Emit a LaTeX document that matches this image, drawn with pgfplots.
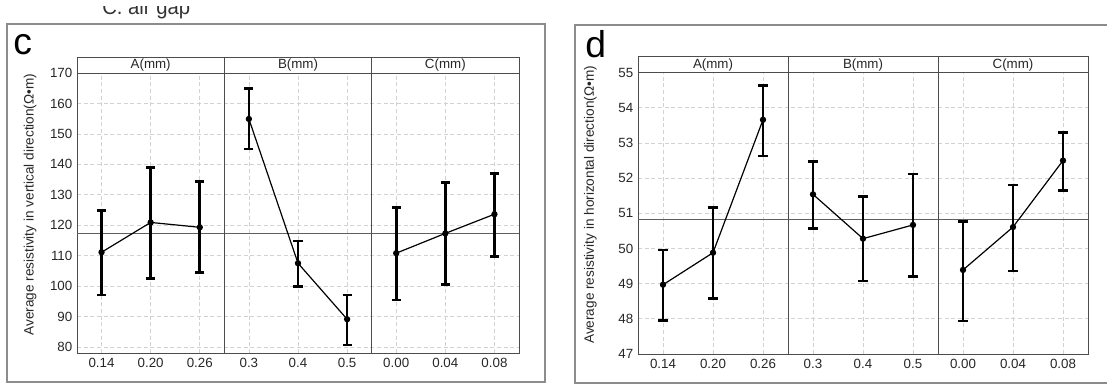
\documentclass[border=0pt]{standalone}
\usepackage{pgfplots}
\pgfplotsset{compat=1.18}
\usepackage{fontspec}
\setmainfont{Liberation Sans}

\definecolor{framegray}{gray}{0.3}
\definecolor{outergray}{gray}{0.55}

\pgfplotsset{
  panel/.style={
    scale only axis, anchor=south west, xmin=0, xmax=9,
    xtick={0.5,1.5,2.5,3.5,4.5,5.5,6.5,7.5,8.5},
    xticklabels={0.14,0.20,0.26,0.3,0.4,0.5,0.00,0.04,0.08},
    major tick length=0pt,
    xmajorgrids, ymajorgrids,
    grid style={dash pattern=on 3pt off 2pt, gray!35, line width=0.5pt},
    axis line style={framegray, line width=0.6pt},
    tick label style={font=\fontsize{10}{11}\selectfont, text=black!85},
    /pgf/number format/assume math mode=true,
    ylabel style={font=\fontsize{10.2}{11}\selectfont, text=black!85,
      at={(axis description cs:-0.106,0.53)}, anchor=center},
    clip=false,
  },
  meanline/.style={gray!75!black, line width=0.6pt},
  effect/.style={black, line width=0.9pt, mark=*, mark size=1.9pt,
    /pgfplots/error bars/y dir=both,
    /pgfplots/error bars/y explicit,
    /pgfplots/error bars/error bar style={line width=2pt},
    /pgfplots/error bars/error mark options={rotate=90, mark size=3.4pt, line width=2pt}},
}

\newcommand{\header}[3]{%
  \draw[framegray, line width=0.6pt] (rel axis cs:0,1) rectangle ([yshift=12pt]rel axis cs:1,1);
  \draw[framegray, line width=0.6pt] (rel axis cs:0.33333,0) -- ([yshift=12pt]rel axis cs:0.33333,1);
  \draw[framegray, line width=0.6pt] (rel axis cs:0.66667,0) -- ([yshift=12pt]rel axis cs:0.66667,1);
  \node[font=\fontsize{10}{11}\selectfont, text=black!85] at ([yshift=6pt]rel axis cs:0.16667,1) {#1};
  \node[font=\fontsize{10}{11}\selectfont, text=black!85] at ([yshift=6pt]rel axis cs:0.5,1) {#2};
  \node[font=\fontsize{10}{11}\selectfont, text=black!85] at ([yshift=6pt]rel axis cs:0.83333,1) {#3};
}

\begin{document}
\begin{tikzpicture}
\path[use as bounding box] (0,0) rectangle (830.25pt,288.75pt);

% cut-off caption at top
\begin{scope}
\clip (0,0) rectangle (830.25pt,283.5pt);
\node[anchor=base west, inner sep=0, font=\fontsize{16}{16}\selectfont, text=black!80, xscale=0.95] at (76.5pt,277.5pt) {C. air gap};
\end{scope}

% outer frames
\draw[outergray, line width=0.8pt] (5.25pt,2.25pt) rectangle (408.75pt,270.75pt);
\draw[outergray, line width=0.8pt] (431.25pt,1.5pt) rectangle (845pt,270pt);

\node[anchor=base west, inner sep=0, font=\fontsize{28}{28}\selectfont] at (9.75pt,247.5pt) {c};
\node[anchor=base west, inner sep=0, font=\fontsize{28}{28}\selectfont] at (438.75pt,245.25pt) {d};

% ---------- panel c ----------
\begin{axis}[panel, at={(57.75pt,24pt)}, width=331.5pt, height=210pt,
  ymin=78, ymax=170, ytick={80,90,...,170},
  ylabel={Average resistivity in vertical direction(Ω•m)}]
\addplot[meanline] coordinates {(0,117.3) (9,117.3)};
\addplot[effect] coordinates {
  (0.5,111.1) += (0,13.7) -= (0,14.0)
  (1.5,120.9) += (0,18.0) -= (0,18.4)
  (2.5,119.3) += (0,15.0) -= (0,14.9)};
\addplot[effect] coordinates {
  (3.5,154.9) += (0,10.1) -= (0,9.9)
  (4.5,107.5) += (0,7.3) -= (0,7.7)
  (5.5,89.1) += (0,8.0) -= (0,8.5)};
\addplot[effect] coordinates {
  (6.5,110.8) += (0,15.1) -= (0,15.4)
  (7.5,117.3) += (0,16.7) -= (0,16.7)
  (8.5,123.6) += (0,13.3) -= (0,13.9)};
\header{A(mm)}{B(mm)}{C(mm)}
\end{axis}

% ---------- panel d ----------
\begin{axis}[panel, at={(478.5pt,23.25pt)}, width=337.5pt, height=211pt,
  ymin=47, ymax=55, ytick={47,48,...,55},
  ylabel={Average resistivity in horizontal direction(Ω•m)}]
\addplot[meanline] coordinates {(0,50.84) (9,50.84)};
\addplot[effect] coordinates {
  (0.5,48.97) += (0,0.99) -= (0,1.02)
  (1.5,49.88) += (0,1.28) -= (0,1.31)
  (2.5,53.66) += (0,0.98) -= (0,1.03)};
\addplot[effect] coordinates {
  (3.5,51.54) += (0,0.94) -= (0,0.97)
  (4.5,50.28) += (0,1.19) -= (0,1.20)
  (5.5,50.67) += (0,1.45) -= (0,1.47)};
\addplot[effect] coordinates {
  (6.5,49.39) += (0,1.38) -= (0,1.45)
  (7.5,50.61) += (0,1.20) -= (0,1.25)
  (8.5,52.50) += (0,0.79) -= (0,0.86)};
\header{A(mm)}{B(mm)}{C(mm)}
\end{axis}
\end{tikzpicture}
\end{document}
